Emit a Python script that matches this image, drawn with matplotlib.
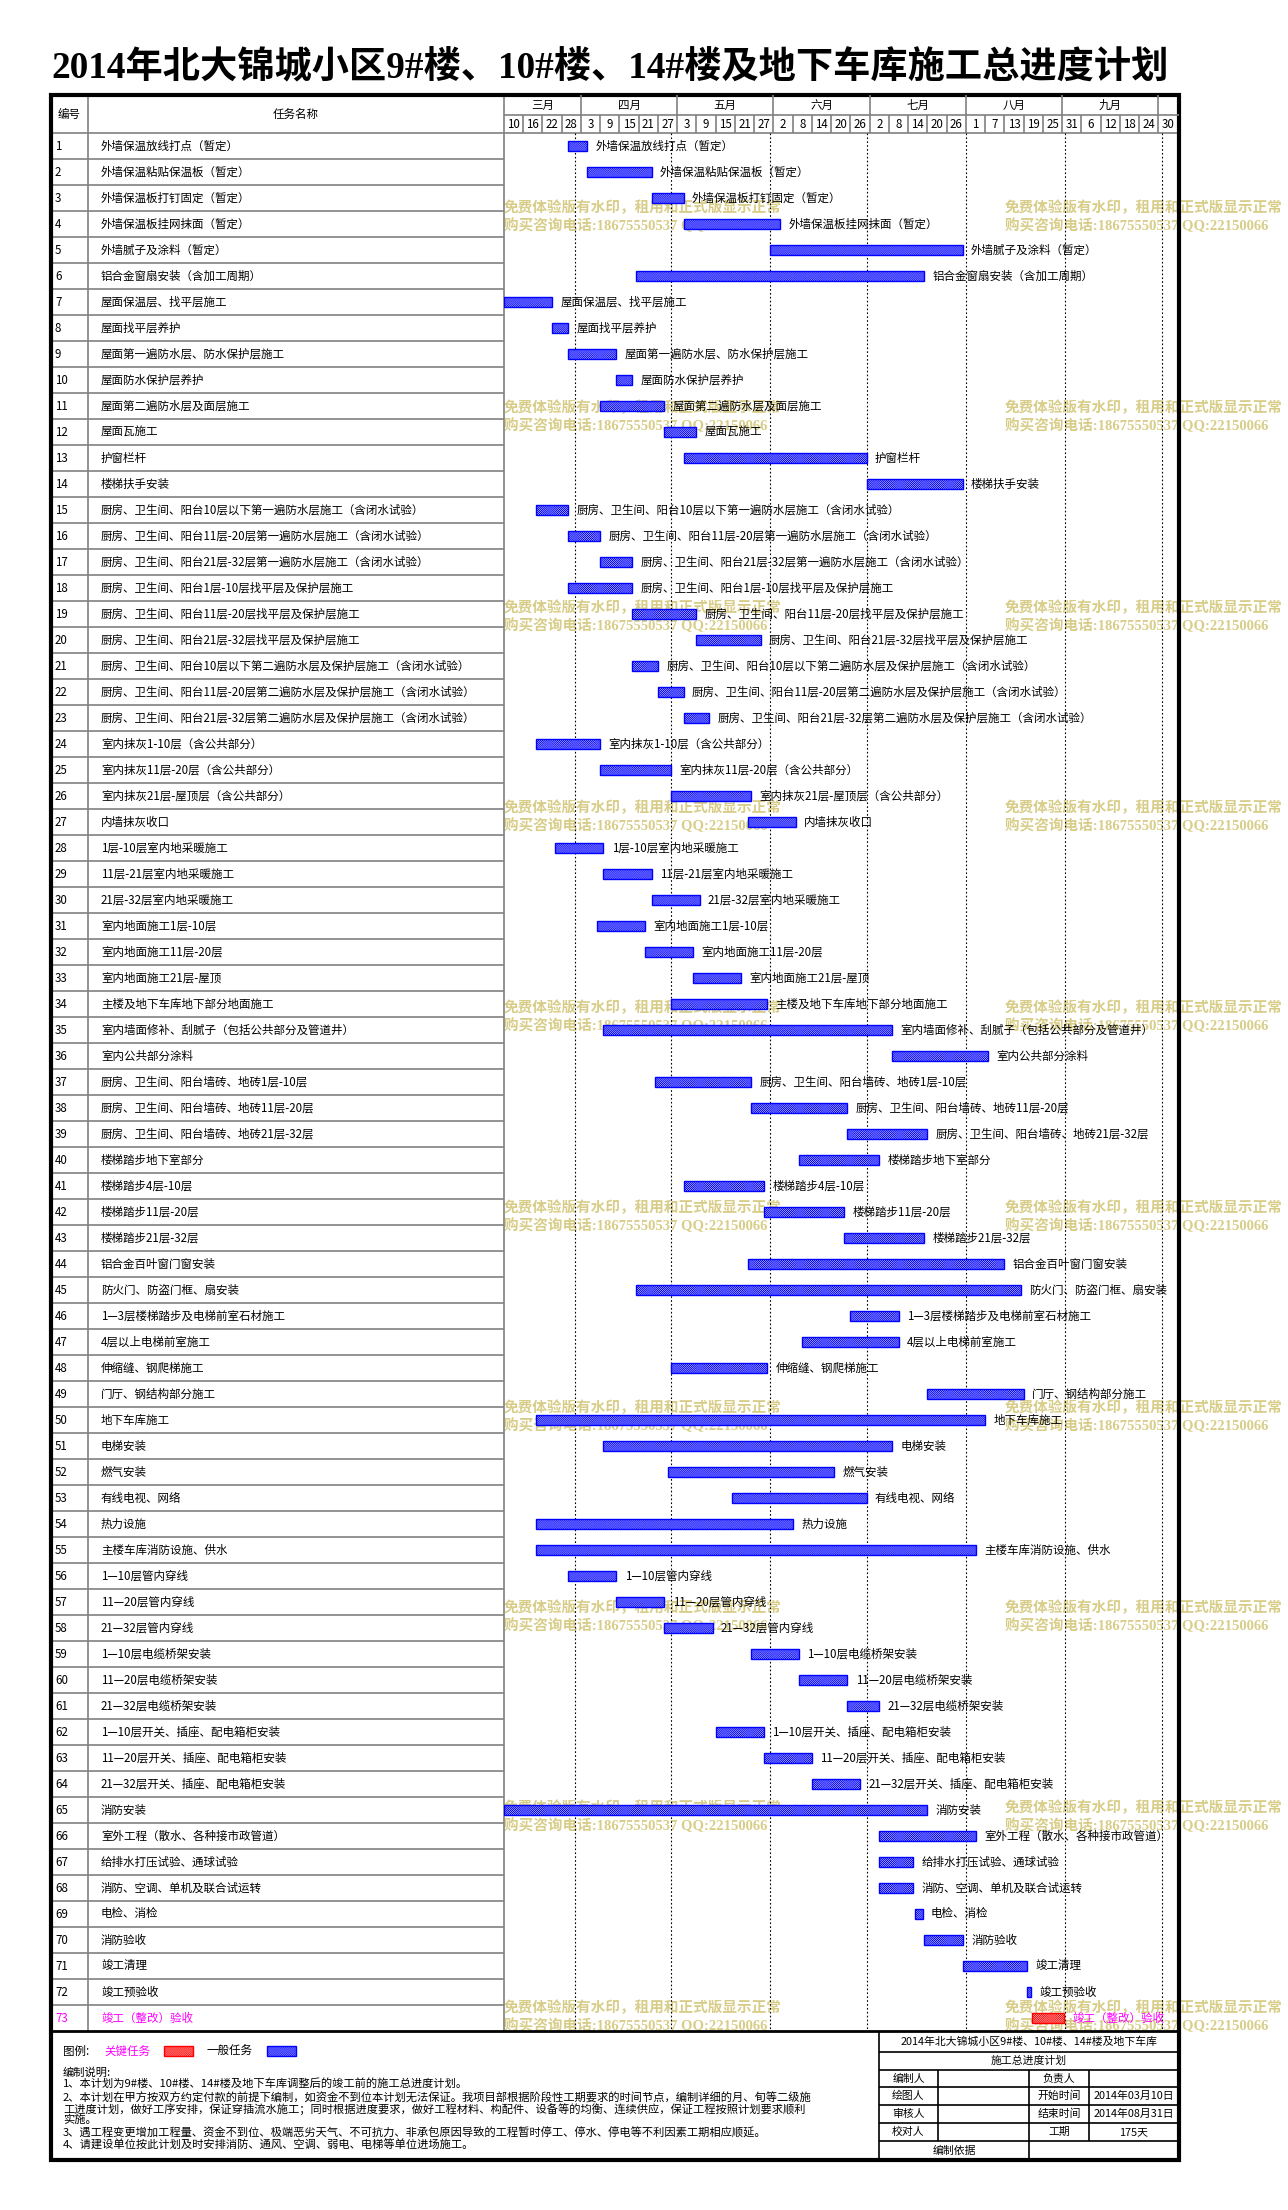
#---------------------------------------------------------------
# 2014 construction schedule (Gantt chart) for 北大锦城小区
#---------------------------------------------------------------
import matplotlib
matplotlib.use("Agg")
import matplotlib.pyplot as plt
from matplotlib.patches import Rectangle

plt.rcParams['font.family'] = ['Noto Sans CJK SC', 'DejaVu Sans']
plt.rcParams['hatch.linewidth'] = 0.3

#--------- Chart data -----------
title = "2014年北大锦城小区9#楼、10#楼、14#楼及地下车库施工总进度计划"

task_names = [
    "外墙保温放线打点（暂定）", "外墙保温粘贴保温板（暂定）", "外墙保温板打钉固定（暂定）",
    "外墙保温板挂网抹面（暂定）", "外墙腻子及涂料（暂定）", "铝合金窗扇安装（含加工周期）",
    "屋面保温层、找平层施工", "屋面找平层养护", "屋面第一遍防水层、防水保护层施工",
    "屋面防水保护层养护", "屋面第二遍防水层及面层施工", "屋面瓦施工", "护窗栏杆", "楼梯扶手安装",
    "厨房、卫生间、阳台10层以下第一遍防水层施工（含闭水试验）",
    "厨房、卫生间、阳台11层-20层第一遍防水层施工（含闭水试验）",
    "厨房、卫生间、阳台21层-32层第一遍防水层施工（含闭水试验）",
    "厨房、卫生间、阳台1层-10层找平层及保护层施工",
    "厨房、卫生间、阳台11层-20层找平层及保护层施工",
    "厨房、卫生间、阳台21层-32层找平层及保护层施工",
    "厨房、卫生间、阳台10层以下第二遍防水层及保护层施工（含闭水试验）",
    "厨房、卫生间、阳台11层-20层第二遍防水层及保护层施工（含闭水试验）",
    "厨房、卫生间、阳台21层-32层第二遍防水层及保护层施工（含闭水试验）",
    "室内抹灰1-10层（含公共部分）", "室内抹灰11层-20层（含公共部分）",
    "室内抹灰21层-屋顶层（含公共部分）", "内墙抹灰收口",
    "1层-10层室内地采暖施工", "11层-21层室内地采暖施工", "21层-32层室内地采暖施工",
    "室内地面施工1层-10层", "室内地面施工11层-20层", "室内地面施工21层-屋顶",
    "主楼及地下车库地下部分地面施工", "室内墙面修补、刮腻子（包括公共部分及管道井）",
    "室内公共部分涂料", "厨房、卫生间、阳台墙砖、地砖1层-10层",
    "厨房、卫生间、阳台墙砖、地砖11层-20层", "厨房、卫生间、阳台墙砖、地砖21层-32层",
    "楼梯踏步地下室部分", "楼梯踏步4层-10层", "楼梯踏步11层-20层", "楼梯踏步21层-32层",
    "铝合金百叶窗门窗安装", "防火门、防盗门框、扇安装", "1—3层楼梯踏步及电梯前室石材施工",
    "4层以上电梯前室施工", "伸缩缝、钢爬梯施工", "门厅、钢结构部分施工", "地下车库施工",
    "电梯安装", "燃气安装", "有线电视、网络", "热力设施", "主楼车库消防设施、供水",
    "1—10层管内穿线", "11—20层管内穿线", "21—32层管内穿线",
    "1—10层电缆桥架安装", "11—20层电缆桥架安装", "21—32层电缆桥架安装",
    "1—10层开关、插座、配电箱柜安装", "11—20层开关、插座、配电箱柜安装",
    "21—32层开关、插座、配电箱柜安装", "消防安装", "室外工程（散水、各种接市政管道）",
    "给排水打压试验、通球试验", "消防、空调、单机及联合试运转", "电检、消检", "消防验收",
    "竣工清理", "竣工预验收", "竣工（整改）验收",
]

# start day counted from 2014-03-10, duration in days
start_day = [20, 26, 46, 56, 83, 41, 0, 15, 20, 35, 30, 50, 56, 113,
             10, 20, 30, 20, 40, 60, 40, 48, 56, 10, 30, 52, 76,
             16, 31, 46, 29, 44, 59, 52, 31, 121, 47, 77, 107, 92, 56, 81, 106,
             76, 41, 108, 93, 52, 132, 10, 31, 51, 71, 10, 10,
             20, 35, 50, 77, 92, 107, 66, 81, 96, 0, 117, 117, 117, 128, 131,
             143, 163, 164.5]
duration = [6, 20, 10, 30, 60, 90, 15, 5, 15, 5, 20, 10, 57, 30,
            10, 10, 10, 20, 20, 20, 8, 8, 8, 20, 22, 25, 15,
            15, 15, 15, 15, 15, 15, 30, 90, 30, 30, 30, 25, 25, 25, 25, 25,
            80, 120, 15, 30, 30, 30, 140, 90, 52, 42, 80, 137,
            15, 15, 15, 15, 15, 10, 15, 15, 15, 132, 30, 10.5, 10.5, 2.5, 12,
            20, 1.3, 10]
key_tasks = [73]  # 关键任务 (critical) row numbers

month_names = ["三月", "四月", "五月", "六月", "七月", "八月", "九月", ""]
month_cols = [4, 5, 5, 5, 5, 5, 5, 1]
date_labels = ["10", "16", "22", "28", "3", "9", "15", "21", "27", "3", "9", "15", "21", "27",
               "2", "8", "14", "20", "26", "2", "8", "14", "20", "26",
               "1", "7", "13", "19", "25", "31", "6", "12", "18", "24", "30"]
month_start_days = [22, 52, 83, 113, 144, 175, 205]  # 1st of Apr..Oct

notes = [
    "编制说明:",
    "1、本计划为9#楼、10#楼、14#楼及地下车库调整后的竣工前的施工总进度计划。",
    "2、本计划在甲方按双方约定付款的前提下编制，如资金不到位本计划无法保证。我项目部根据阶段性工期要求的时间节点，编制详细的月、旬等二级施",
    "工进度计划，做好工序安排，保证穿插流水施工；同时根据进度要求，做好工程材料、构配件、设备等的均衡、连续供应，保证工程按照计划要求顺利",
    "实施。",
    "3、遇工程变更增加工程量、资金不到位、极端恶劣天气、不可抗力、非承包原因导致的工程暂时停工、停水、停电等不利因素工期相应顺延。",
    "4、请建设单位按此计划及时安排消防、通风、空调、弱电、电梯等单位进场施工。",
]
note_y = [2073, 2084, 2098, 2109, 2120, 2133, 2145]

info_left = ["编制人", "绘图人", "审核人", "校对人"]
info_mid = ["负责人", "开始时间", "结束时间", "工期"]
info_right = ["", "2014年03月10日", "2014年08月31日", "175天"]

wm1 = "免费体验版有水印，租用和正式版显示正常"
wm2 = "购买咨询电话:18675550537 QQ:22150066"

#--------- Layout (pixels) -----------
W, H = 1288, 2210
L, C1, C2, R = 51, 88, 504, 1179
TOP, HMID, ROW0, ROW_H = 95, 115, 133, 26
N = len(task_names)
TBOT = ROW0 + N * ROW_H
FBOT = 2160
DAYS = 210.4
FS = 8.3
GRAY = "#808080"
BLUE_FACE, BLUE_EDGE = "#b4b4ff", "#0000ff"
RED_FACE, RED_EDGE = "#ffb4b4", "#ff0000"
WM_COLOR = "#d8cd88"
SERIF_CJK = ['Liberation Serif', 'Noto Sans CJK SC']
HATCH = "x" * 16

fig = plt.figure(figsize=(W / 100, H / 100), dpi=100)
ax = fig.add_axes([0, 0, 1, 1], zorder=0)
ax.set_xlim(0, W)
ax.set_ylim(H, 0)
ax.axis("off")

# title
ax.text(L, 68, title, fontsize=26.8, fontweight="bold", family=SERIF_CJK,
        ha="left", va="center")

# watermark (behind everything)
for k in range(10):
    for x0 in (504, 1005):
        ax.text(x0, 208 + 200 * k, wm1, fontsize=10.5, fontweight="bold", family=SERIF_CJK,
                color=WM_COLOR, ha="left", va="center", zorder=0.5)
        ax.text(x0, 226 + 200 * k, wm2, fontsize=10.5, fontweight="bold", family=SERIF_CJK,
                color=WM_COLOR, ha="left", va="center", zorder=0.5)

# left table: header and rows
ax.text((L + C1) / 2, (TOP + ROW0) / 2, "编号", fontsize=FS, ha="center", va="center")
ax.text((C1 + C2) / 2, (TOP + ROW0) / 2, "任务名称", fontsize=FS, ha="center", va="center")
ax.hlines([ROW0 + k * ROW_H for k in range(N)], L, C2, colors=GRAY, lw=1.2, zorder=2)
ax.hlines(ROW0, C2, R, colors=GRAY, lw=1.2, zorder=2)
ax.vlines([C1, C2], TOP, TBOT, colors=GRAY, lw=1.2, zorder=2)
for i, name in enumerate(task_names):
    yc = ROW0 + (i + 0.5) * ROW_H
    col = "#ff00ff" if (i + 1) in key_tasks else "black"
    ax.text(55, yc, str(i + 1), fontsize=FS, color=col, ha="left", va="center")
    ax.text(101, yc, name, fontsize=FS, color=col, ha="left", va="center")

# bottom section: legend, notes, info table
ax.hlines(TBOT, L, R, colors="black", lw=2, zorder=3)
ax.text(63, 2051, "图例:", fontsize=FS, ha="left", va="center")
ax.text(104, 2051, "关键任务", fontsize=FS, color="#ff00ff", ha="left", va="center")
ax.add_patch(Rectangle((164, 2046), 29, 10, facecolor=RED_FACE, edgecolor=RED_EDGE,
                       hatch=HATCH, lw=1))
ax.text(207, 2051, "一般任务", fontsize=FS, ha="left", va="center")
ax.add_patch(Rectangle((267, 2046), 29, 10, facecolor=BLUE_FACE, edgecolor=BLUE_EDGE,
                       hatch=HATCH, lw=1))
for line, y in zip(notes, note_y):
    ax.text(63, y, line, fontsize=8.1, ha="left", va="center")

IX0, IX1, IX2, IX3 = 879, 938, 1029, 1089
info_rows = [2032, 2052, 2070, 2087, 2105, 2123, 2141, FBOT]
ax.hlines(info_rows[1:-1], IX0, R, colors="black", lw=1.2)
ax.vlines(IX0, TBOT, FBOT, colors="black", lw=1.2)
ax.vlines([IX1, IX3], info_rows[2], info_rows[6], colors="black", lw=1.2)
ax.vlines(IX2, info_rows[2], FBOT, colors="black", lw=1.2)
ax.text((IX0 + R) / 2, 2042, "2014年北大锦城小区9#楼、10#楼、14#楼及地下车库",
        fontsize=7.8, ha="center", va="center")
ax.text((IX0 + R) / 2, 2061, "施工总进度计划", fontsize=7.8, ha="center", va="center")
for j in range(4):
    yc = (info_rows[j + 2] + info_rows[j + 3]) / 2
    ax.text((IX0 + IX1) / 2, yc, info_left[j], fontsize=7.8, ha="center", va="center")
    ax.text((IX2 + IX3) / 2, yc, info_mid[j], fontsize=7.8, ha="center", va="center")
    ax.text((IX3 + R) / 2, yc, info_right[j], fontsize=7.8, ha="center", va="center")
ax.text((IX0 + IX2) / 2, (info_rows[6] + FBOT) / 2, "编制依据", fontsize=7.8,
        ha="center", va="center")

# outer frame
ax.add_patch(Rectangle((L, TOP), R - L, FBOT - TOP, fill=False, edgecolor="black",
                       lw=3, zorder=4))

#--------- Gantt area -----------
gx = fig.add_axes([C2 / W, 1 - TBOT / H, (R - C2) / W, (TBOT - ROW0) / H], zorder=1)
gx.set_xlim(0, DAYS)
gx.set_ylim(N, 0)
gx.axis("off")
gx.patch.set_alpha(0)

y_top = (TOP - ROW0) / ROW_H
y_mid = (HMID - ROW0) / ROW_H

# timeline header
gx.hlines(y_mid, 0, DAYS, colors=GRAY, lw=1.2, clip_on=False)
gx.vlines([6 * k for k in range(1, len(date_labels))], y_mid, 0, colors=GRAY, lw=1.2,
          clip_on=False)
for k, lab in enumerate(date_labels):
    xc = (6 * k + min(6 * k + 6, DAYS)) / 2
    gx.text(xc, y_mid / 2, lab, fontsize=FS, ha="center", va="center", clip_on=False)
col = 0
for name, n in zip(month_names, month_cols):
    x0, x1 = 6 * col, min(6 * (col + n), DAYS)
    gx.text((x0 + x1) / 2, (y_top + y_mid) / 2, name, fontsize=FS, ha="center",
            va="center", clip_on=False)
    if col > 0:
        gx.vlines(x0, y_top, y_mid, colors=GRAY, lw=1.2, clip_on=False)
    col += n

# month boundary lines
gx.vlines(month_start_days, 0, N, colors="black", linestyles=(0, (1.5, 2)), lw=0.8)

# bars
rows = [i + 0.5 for i in range(N)]
face = [RED_FACE if (i + 1) in key_tasks else BLUE_FACE for i in range(N)]
edge = [RED_EDGE if (i + 1) in key_tasks else BLUE_EDGE for i in range(N)]
gx.barh(rows, duration, left=start_day, height=0.37, color=face, edgecolor=edge,
        hatch=HATCH, linewidth=1, zorder=3)
for i, name in enumerate(task_names):
    col = "#ff00ff" if (i + 1) in key_tasks else "black"
    gx.annotate(name, (start_day[i] + duration[i], rows[i]), xytext=(6, 0),
                textcoords="offset points", fontsize=FS, color=col, ha="left",
                va="center", zorder=4, annotation_clip=False)

fig.savefig("out.png", dpi=100)
